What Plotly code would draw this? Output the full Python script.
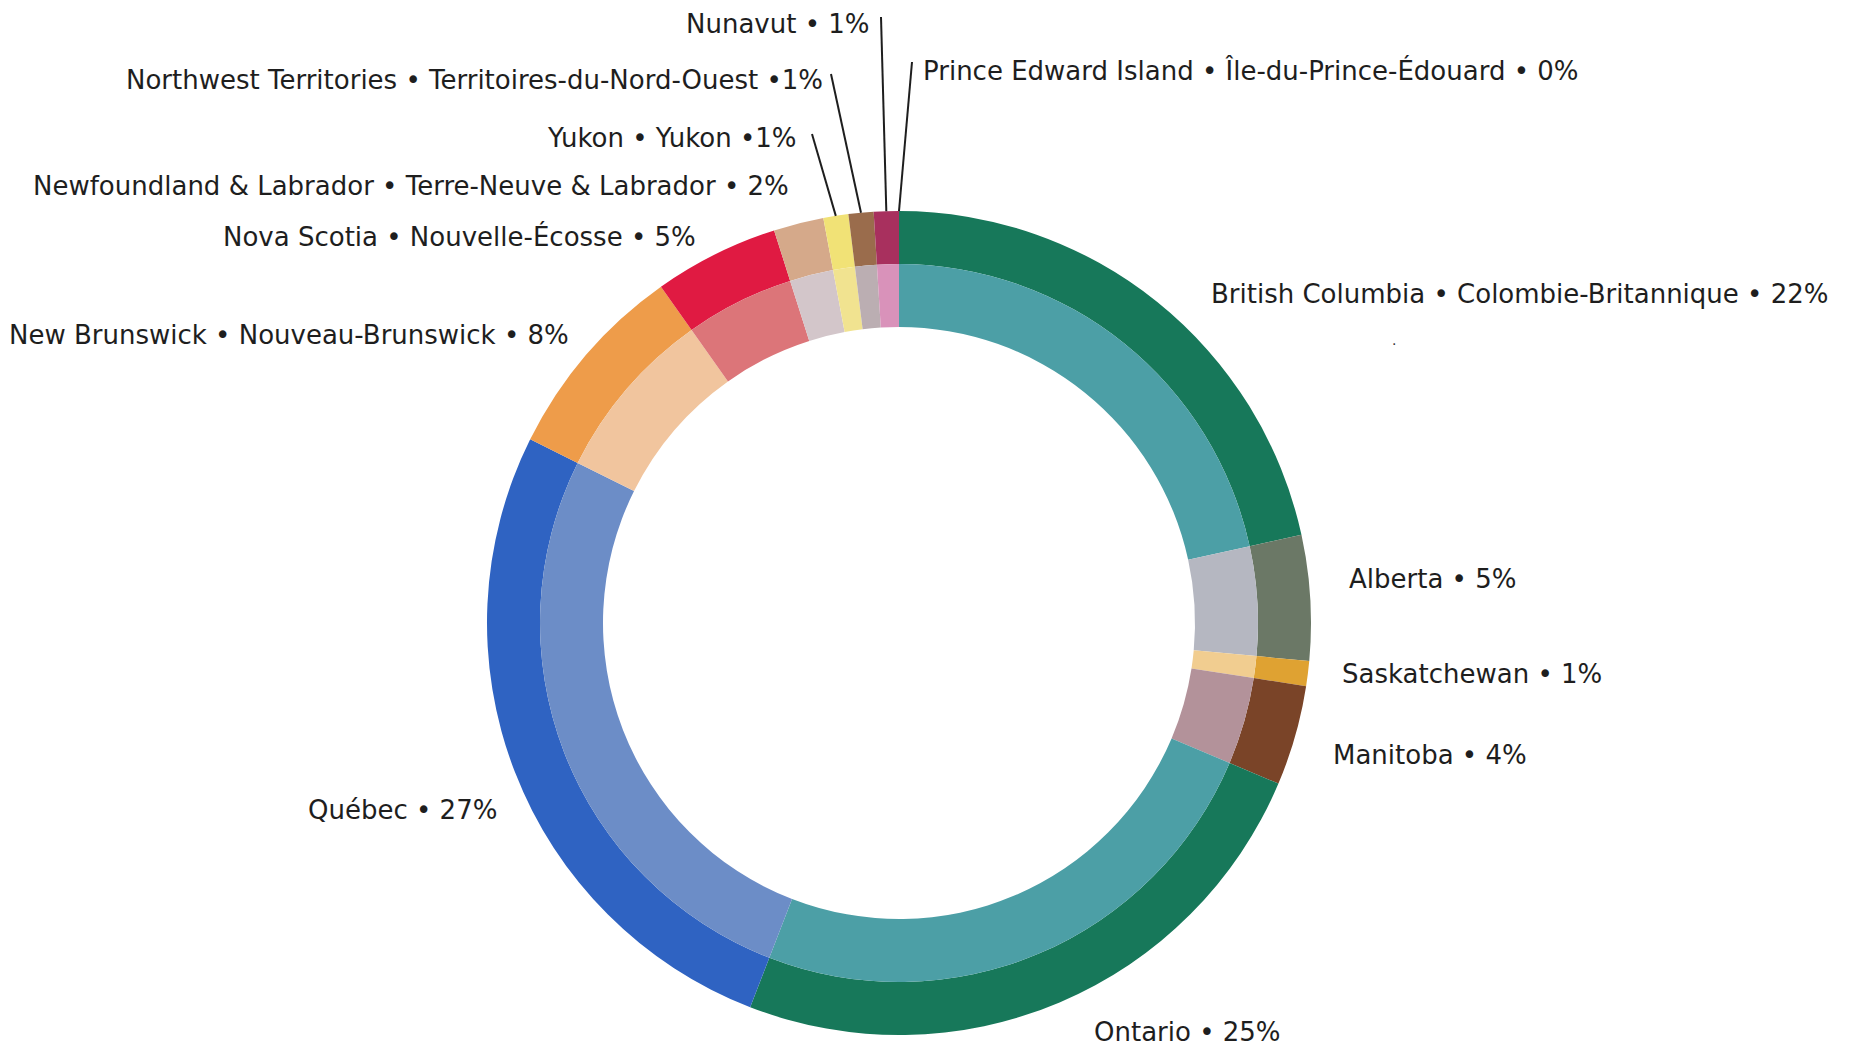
import math
import plotly.graph_objects as go

W, H = 1862, 1047

# ---- data ----
names = [
    "British Columbia • Colombie-Britannique",
    "Alberta",
    "Saskatchewan",
    "Manitoba",
    "Ontario",
    "Québec",
    "New Brunswick • Nouveau-Brunswick",
    "Nova Scotia • Nouvelle-Écosse",
    "Newfoundland & Labrador • Terre-Neuve & Labrador",
    "Yukon • Yukon",
    "Northwest Territories • Territoires-du-Nord-Ouest",
    "Nunavut",
    "Prince Edward Island • Île-du-Prince-Édouard",
]
shares = [22, 5, 1, 4, 25, 27, 8, 5, 2, 1, 1, 1, 0]
sep = [" • ", " • ", " • ", " • ", " • ", " • ", " • ", " • ", " • ", " •", " •", " • ", " • "]

outer_colors = ["#17785a", "#6b7866", "#dfa232", "#7a4428", "#17785a", "#2f63c2",
                "#ee9c4a", "#e01a42", "#d5a98a", "#f1e276", "#9a6c4c", "#a8305e", "#c04080"]
inner_colors = ["#4c9fa6", "#b5b7c1", "#f1cd90", "#b3929a", "#4c9fa6", "#6c8dc7",
                "#f1c59e", "#dc7579", "#d3c6ca", "#f1e390", "#bbaeb2", "#d992ba", "#e0a0c0"]

# ---- geometry (pixels) ----
CX, CY = 899, 623
R_OUT, R_MID, R_HOLE = 412, 359, 296


def dom(r):
    return dict(x=[(CX - r) / W, (CX + r) / W],
                y=[(H - CY - r) / H, (H - CY + r) / H])


fig = go.Figure()
fig.add_trace(go.Pie(values=shares, labels=names, sort=False, direction="clockwise",
                     rotation=0, hole=R_MID / R_OUT, domain=dom(R_OUT),
                     marker=dict(colors=outer_colors, line=dict(width=0)),
                     textinfo="none", hoverinfo="label+percent", showlegend=False))
fig.add_trace(go.Pie(values=shares, labels=names, sort=False, direction="clockwise",
                     rotation=0, hole=R_HOLE / R_MID, domain=dom(R_MID),
                     marker=dict(colors=inner_colors, line=dict(width=0)),
                     textinfo="none", hoverinfo="label+percent", showlegend=False))

# ---- label placement (pixels): (x, y, anchor) ----
label_pos = [
    (1209, 294, "left"),
    (1347, 579, "left"),
    (1340, 674, "left"),
    (1331, 755, "left"),
    (1092, 1032, "left"),
    (499, 810, "right"),
    (571, 335, "right"),
    (698, 236, "right"),
    (791, 186, "right"),
    (799, 138, "right"),
    (825, 80, "right"),
    (872, 24, "right"),
    (921, 71, "left"),
]
# leader line outer ends (pixels) for the tiny slices
leader_end = {9: (812, 134), 10: (831, 74), 11: (881, 17), 12: (912, 62)}

FONT = dict(family="DejaVu Sans", size=26, color="#1e1e1e")
ann = []
for i, (n, s) in enumerate(zip(names, shares)):
    x, y, a = label_pos[i]
    ann.append(dict(text=f"{n}{sep[i]}{s}%", x=x / W, y=1 - y / H, xref="paper", yref="paper",
                    xanchor=a, yanchor="middle", showarrow=False, font=FONT))
ann.append(dict(text=".", x=1398 / W, y=1 - 330 / H, xref="paper", yref="paper",
                showarrow=False, font=dict(family="DejaVu Sans", size=14, color="#333")))

total = sum(shares)
shapes = []
cum = 0
for i, s in enumerate(shares):
    mid = (cum + s / 2) / total * 2 * math.pi
    cum += s
    if i in leader_end:
        px = CX + R_OUT * math.sin(mid)
        py = CY - R_OUT * math.cos(mid)
        ex, ey = leader_end[i]
        shapes.append(dict(type="line", xref="paper", yref="paper",
                           x0=px / W, y0=1 - py / H, x1=ex / W, y1=1 - ey / H,
                           line=dict(color="#1e1e1e", width=2)))

fig.update_layout(width=W, height=H, margin=dict(l=0, r=0, t=0, b=0),
                  paper_bgcolor="white", plot_bgcolor="white",
                  annotations=ann, shapes=shapes)
fig.write_html("out.html")
